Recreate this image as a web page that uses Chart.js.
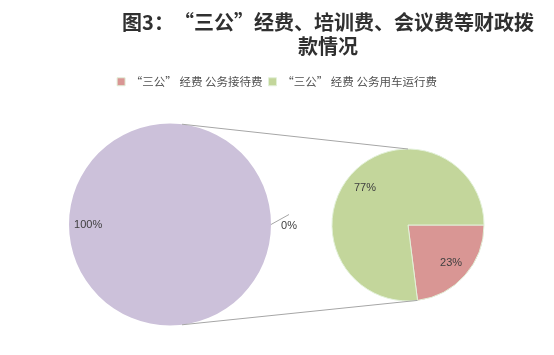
<!DOCTYPE html>
<html><head><meta charset="utf-8">
<script src="https://cdn.jsdelivr.net/npm/chart.js@4/dist/chart.umd.min.js"></script>
<style>
html,body{margin:0;padding:0;background:#fff;}
#wrap{position:relative;width:554px;height:355px;overflow:hidden;}
#wrap canvas{position:absolute;left:0;top:0;}
</style></head><body>
<div id="wrap"><canvas id="leftPie" width="554" height="355"></canvas><canvas id="rightPie" width="554" height="355"></canvas></div>
<script>
// ---- data ----
const titleLines = ['图3：“三公”经费、培训费、会议费等财政拨', '款情况'];
const rightLabels = ['“三公” 经费 公务接待费', '“三公” 经费 公务用车运行费'];
const rightValues = [23, 77];
const leftLabels = ['其他', '其他项目'];
const leftValues = [100, 0];

// ---- style ----
const CJK = '"Noto Sans CJK SC", "Noto Sans", sans-serif';
const RED = '#D99694', GREEN = '#C3D69B', PURPLE = '#CCC1DA';

const placePie = {
  id: 'placePie',
  afterLayout(chart, args, o) {
    const r = o.r;
    chart.chartArea = {left: o.cx - r, top: o.cy - r, right: o.cx + r, bottom: o.cy + r, width: 2 * r, height: 2 * r};
  }
};

const pctLabels = {
  id: 'pctLabels',
  afterDatasetsDraw(chart, args, o) {
    const ctx = chart.ctx;
    const meta = chart.getDatasetMeta(0);
    const vals = chart.data.datasets[0].data;
    const total = vals.reduce((a, b) => a + b, 0);
    ctx.save();
    ctx.font = '11px "Liberation Sans", Arial, sans-serif';
    ctx.fillStyle = '#404040';
    ctx.textAlign = 'center';
    ctx.textBaseline = 'middle';
    meta.data.forEach((arc, i) => {
      const p = arc.getProps(['x', 'y', 'startAngle', 'endAngle', 'outerRadius'], true);
      const txt = Math.round(vals[i] / total * 100) + '%';
      const mid = (p.startAngle + p.endAngle) / 2;
      if (vals[i] > 0) {
        const rr = p.outerRadius * o.ratio;
        ctx.fillText(txt, p.x + Math.cos(mid) * rr, p.y + Math.sin(mid) * rr + 0.5);
      } else {
        const x0 = p.x + Math.cos(mid) * p.outerRadius, y0 = p.y + Math.sin(mid) * p.outerRadius;
        const x1 = x0 + 18, y1 = y0 - 10;
        ctx.strokeStyle = '#a6a6a6';
        ctx.lineWidth = 1;
        ctx.beginPath(); ctx.moveTo(x0, y0); ctx.lineTo(x1, y1); ctx.stroke();
        ctx.fillText(txt, x1, y0 + 1);
      }
    });
    ctx.restore();
  }
};

const leftChart = new Chart(document.getElementById('leftPie'), {
  type: 'pie',
  data: {
    labels: leftLabels,
    datasets: [{data: leftValues, backgroundColor: [PURPLE, PURPLE], borderWidth: 0, radius: 101, rotation: 90, clip: false}]
  },
  options: {
    responsive: false, animation: false, devicePixelRatio: 1,
    plugins: {
      legend: {display: false}, tooltip: {enabled: false},
      placePie: {cx: 170, cy: 224.5, r: 101},
      pctLabels: {ratio: 0.81}
    }
  },
  plugins: [placePie, pctLabels]
});

const titlePlugin = {
  id: 'titleText',
  afterDraw(chart, args, o) {
    const ctx = chart.ctx;
    ctx.save();
    ctx.font = 'bold 20px ' + CJK;
    ctx.fillStyle = '#303030';
    ctx.textAlign = 'center';
    ctx.textBaseline = 'middle';
    o.lines.forEach((t, i) => ctx.fillText(t, o.x, o.y + i * o.lh));
    ctx.restore();
  }
};

const connectors = {
  id: 'connectors',
  afterDatasetsDraw(chart, args, o) {
    const L = leftChart.getDatasetMeta(0).data[0];
    const lp = L.getProps(['x', 'y', 'outerRadius'], true);
    const arcs = chart.getDatasetMeta(0).data;
    const rp = arcs[0].getProps(['x', 'y', 'outerRadius', 'endAngle'], true);
    const a = o.leftAngle * Math.PI / 180;
    const lTop = [lp.x + Math.cos(-a) * lp.outerRadius, lp.y + Math.sin(-a) * lp.outerRadius];
    const lBot = [lp.x + Math.cos(a) * lp.outerRadius, lp.y + Math.sin(a) * lp.outerRadius];
    const rTop = [rp.x, rp.y - rp.outerRadius];
    const rBot = [rp.x + Math.cos(rp.endAngle) * rp.outerRadius, rp.y + Math.sin(rp.endAngle) * rp.outerRadius];
    const ctx = chart.ctx;
    ctx.save();
    ctx.strokeStyle = '#a6a6a6';
    ctx.lineWidth = 1;
    ctx.beginPath();
    ctx.moveTo(lTop[0], lTop[1]); ctx.lineTo(rTop[0], rTop[1]);
    ctx.moveTo(lBot[0], lBot[1]); ctx.lineTo(rBot[0], rBot[1]);
    ctx.stroke();
    ctx.restore();
  }
};

const rightChart = new Chart(document.getElementById('rightPie'), {
  type: 'pie',
  data: {
    labels: rightLabels,
    datasets: [{data: rightValues, backgroundColor: [RED, GREEN], borderColor: '#e2f0d8', borderWidth: 1, radius: 76, rotation: 90, clip: false}]
  },
  options: {
    responsive: false, animation: false, devicePixelRatio: 1,
    layout: {padding: {top: 70}},
    plugins: {
      legend: {
        display: true, position: 'top',
        labels: {boxWidth: 8, boxHeight: 8, padding: 6, color: '#505050', font: {size: 11.5, family: CJK}}
      },
      tooltip: {enabled: false},
      placePie: {cx: 408, cy: 225, r: 76},
      pctLabels: {ratio: 0.755},
      titleText: {lines: titleLines, x: 328, y: 22, lh: 24.5},
      connectors: {leftAngle: 83.2}
    }
  },
  plugins: [placePie, pctLabels, connectors, titlePlugin]
});
</script>
</body></html>
